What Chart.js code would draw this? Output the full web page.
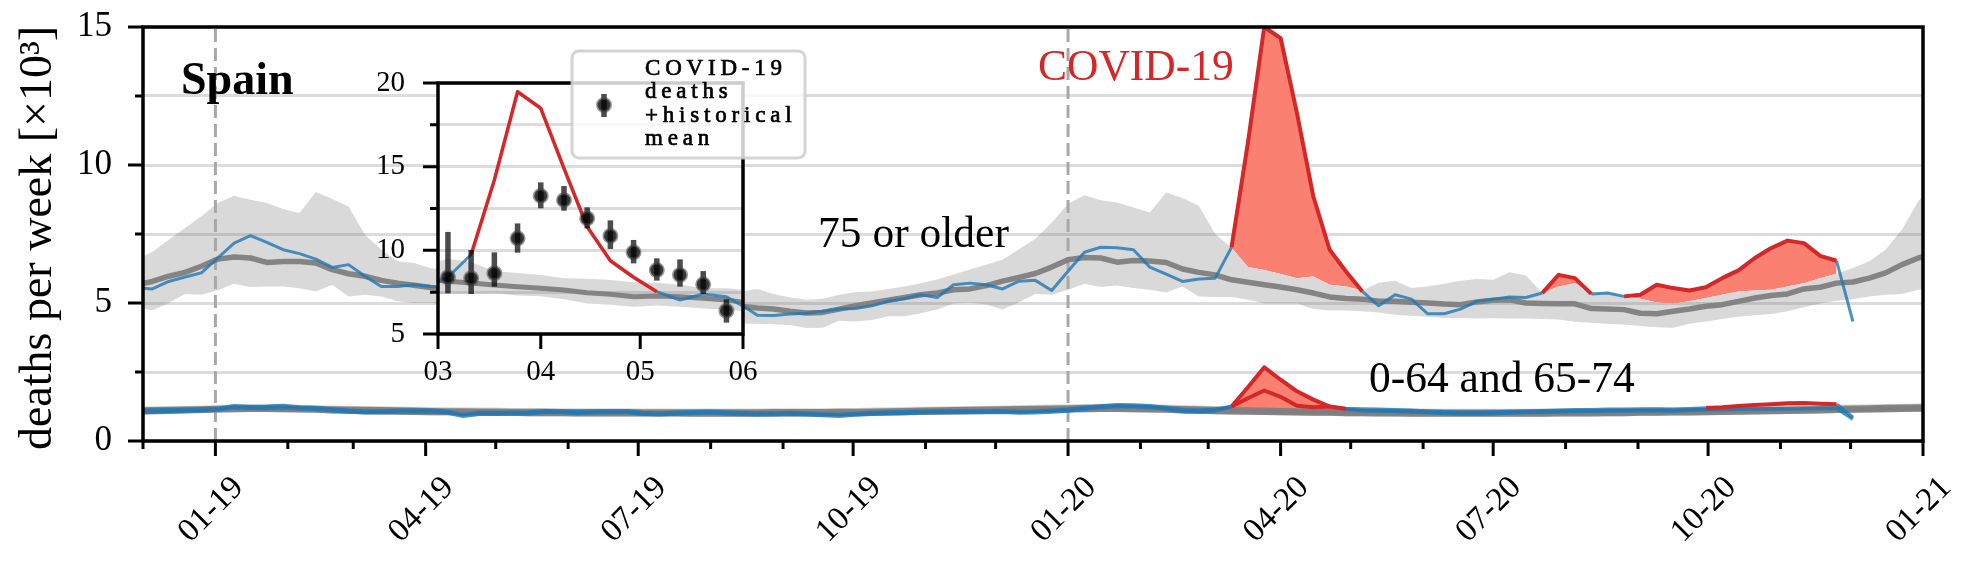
<!DOCTYPE html>
<html>
<head>
<meta charset="utf-8">
<script src="https://cdn.jsdelivr.net/npm/chart.js@4.4.1/dist/chart.umd.min.js"></script>
<style>
  html, body { margin: 0; padding: 0; background: #fff; }
  #wrap { position: relative; width: 1974px; height: 568px; }
  #wrap canvas { position: absolute; left: 0; top: 0; }
</style>
</head>
<body>
<div id="wrap">
  <canvas id="main" width="1974" height="568"></canvas>
  <canvas id="inset" width="1974" height="568"></canvas>
</div>
<script>
// weekly values (x10^3 deaths), one per week starting Wed 2018-11-28
const firstWeek = '2018-11-28';

// 75 or older
const mean75 = [5.65, 5.78, 5.97, 6.11, 6.33, 6.59, 6.67, 6.63, 6.47, 6.5, 6.5,
  6.45, 6.21, 6.06, 5.97, 5.82, 5.72, 5.64, 5.56, 5.5, 5.45,
  5.4, 5.35, 5.3, 5.27, 5.23, 5.2, 5.16, 5.12, 5.1, 5.06,
  5.03, 5.0, 4.98, 4.95, 4.92, 4.9, 4.88, 4.82, 4.78, 4.7,
  4.64, 4.66, 4.78, 4.9, 5.0, 5.1, 5.2, 5.3, 5.36, 5.48,
  5.51, 5.63, 5.79, 5.93, 6.07, 6.3, 6.57, 6.65, 6.63, 6.48,
  6.54, 6.52, 6.47, 6.23, 6.11, 6.02, 5.84, 5.75, 5.66, 5.58,
  5.48, 5.36, 5.22, 5.16, 5.14, 5.06, 5.06, 5.03, 5.0, 4.96,
  4.94, 5.04, 5.1, 5.12, 5.0, 4.98, 4.97, 4.97, 4.8, 4.78,
  4.76, 4.63, 4.61, 4.7, 4.78, 4.88, 4.94, 5.06, 5.18, 5.27,
  5.33, 5.51, 5.57, 5.72, 5.76, 5.9, 6.09, 6.39, 6.63, 6.8];
const high75 = [6.6, 6.85, 7.29, 7.72, 8.14, 8.62, 8.89, 8.74, 8.62, 8.41, 8.26,
  9.02, 8.77, 8.5, 7.47, 6.93, 6.51, 6.45, 6.27, 6.2, 6.15,
  6.1, 6.05, 6.0, 5.95, 5.9, 5.85, 5.8, 5.78, 5.75, 5.7,
  5.65, 5.6, 5.58, 5.55, 5.5, 5.45, 5.42, 5.51, 5.33, 5.2,
  5.12, 5.15, 5.3, 5.39, 5.42, 5.51, 5.6, 5.72, 5.85, 6.03,
  6.21, 6.39, 6.57, 6.95, 7.33, 7.91, 8.6, 8.9, 8.72, 8.64,
  8.46, 8.28, 9.0, 8.8, 8.52, 7.5, 7.0, 6.3, 6.2, 6.05,
  5.9, 5.96, 5.66, 5.6, 5.45, 5.73, 5.81, 5.54, 5.6, 5.7,
  5.81, 5.87, 5.84, 6.11, 6.0, 5.36, 5.6, 5.72, 5.33, 5.4,
  5.24, 5.15, 5.02, 4.97, 5.06, 5.18, 5.3, 5.42, 5.45, 5.48,
  5.6, 5.72, 5.9, 6.06, 6.27, 6.51, 6.93, 7.66, 8.7, 9.3];
const low75 = [4.85, 4.73, 5.0, 5.33, 5.3, 5.46, 5.7, 5.58, 5.6, 5.6, 5.53,
  5.42, 5.66, 5.24, 5.3, 5.24, 5.06, 5.0, 5.0, 4.95, 4.9,
  4.85, 4.8, 4.75, 4.7, 4.65, 4.6, 4.55, 4.5, 4.48, 4.45,
  4.42, 4.4, 4.37, 4.33, 4.3, 4.28, 4.25, 4.25, 4.23, 4.2,
  4.09, 4.1, 4.36, 4.33, 4.38, 4.52, 4.52, 4.63, 4.76, 4.98,
  5.02, 4.95, 4.76, 5.03, 5.33, 5.3, 5.48, 5.7, 5.58, 5.63,
  5.54, 5.48, 5.38, 5.6, 5.24, 5.22, 5.22, 5.12, 4.98, 4.98,
  4.98, 4.78, 4.73, 4.73, 4.7, 4.66, 4.57, 4.54, 4.5, 4.46,
  4.46, 4.44, 4.45, 4.44, 4.44, 4.42, 4.4, 4.32, 4.28, 4.25,
  4.22, 4.17, 4.12, 4.1, 4.25, 4.33, 4.42, 4.5, 4.56, 4.6,
  4.7, 4.85, 4.98, 5.08, 5.14, 5.24, 5.3, 5.33, 5.48, 5.55];
const obs75 = [5.55, 5.51, 5.78, 5.94, 6.09, 6.63, 7.17, 7.44, 7.2, 6.93, 6.79,
  6.59, 6.29, 6.39, 5.97, 5.6, 5.6, 5.66, 5.6, 5.55, 5.4,
  5.45, 5.3, 5.35, 5.2, 5.25, 5.15, 5.2, 5.05, 5.1, 5.0,
  5.05, 4.95, 4.9, 4.95, 4.85, 4.9, 4.95, 4.56, 4.55, 4.6,
  4.63, 4.7, 4.78, 4.8, 4.9, 5.06, 5.16, 5.3, 5.2, 5.66,
  5.72, 5.66, 5.51, 5.79, 5.82, 5.45, 6.15, 6.84, 7.02, 7.0,
  6.93, 6.3, 6.05, 5.78, 5.87, 5.9, 7.02, 10.8, 15.0, 14.6,
  11.88, 8.86, 6.93, 6.14, 5.42, 4.9, 5.3, 5.14, 4.61, 4.61,
  4.78, 5.06, 5.14, 5.22, 5.2, 5.36, 6.02, 5.9, 5.33, 5.36,
  5.24, 5.3, 5.66, 5.54, 5.45, 5.57, 5.9, 6.18, 6.63, 6.99,
  7.26, 7.17, 6.71, 6.53, 4.33];
const covid75 = [['2020-03-11', '2020-05-06'], ['2020-07-22', '2020-08-12'], ['2020-08-26', '2020-11-25']];

// 0-64
const meanA = [1.06, 1.07, 1.08, 1.1, 1.11, 1.13, 1.14, 1.15, 1.15, 1.14, 1.13,
  1.12, 1.1, 1.09, 1.07, 1.06, 1.05, 1.04, 1.03, 1.03, 1.02,
  1.02, 1.01, 1.01, 1.0, 1.0, 1.0, 0.99, 0.99, 0.99, 0.99,
  0.99, 0.99, 0.99, 0.98, 0.98, 0.98, 0.98, 0.98, 0.99, 0.99,
  0.99, 0.99, 1.0, 1.0, 1.01, 1.02, 1.03, 1.04, 1.05, 1.06,
  1.07, 1.08, 1.09, 1.1, 1.11, 1.12, 1.13, 1.14, 1.15, 1.15,
  1.14, 1.13, 1.12, 1.1, 1.09, 1.07, 1.06, 1.05, 1.04, 1.03,
  1.02, 1.01, 1.01, 1.0, 1.0, 0.99, 0.99, 0.98, 0.98, 0.98,
  0.98, 0.98, 0.98, 0.98, 0.98, 0.98, 0.99, 0.99, 0.99, 1.0,
  1.0, 1.01, 1.01, 1.02, 1.02, 1.03, 1.04, 1.05, 1.06, 1.07,
  1.08, 1.09, 1.1, 1.11, 1.12, 1.13, 1.14, 1.15, 1.16, 1.17];
const highA = [1.18, 1.2, 1.21, 1.23, 1.24, 1.26, 1.27, 1.28, 1.27, 1.26, 1.25,
  1.24, 1.22, 1.21, 1.19, 1.18, 1.17, 1.16, 1.15, 1.15, 1.14,
  1.14, 1.13, 1.13, 1.12, 1.12, 1.12, 1.11, 1.11, 1.12, 1.11,
  1.11, 1.11, 1.1, 1.1, 1.1, 1.1, 1.1, 1.1, 1.11, 1.11,
  1.11, 1.11, 1.12, 1.12, 1.13, 1.14, 1.15, 1.16, 1.17, 1.18,
  1.19, 1.2, 1.21, 1.22, 1.23, 1.24, 1.26, 1.27, 1.28, 1.28,
  1.27, 1.26, 1.25, 1.23, 1.22, 1.2, 1.19, 1.18, 1.17, 1.16,
  1.15, 1.14, 1.13, 1.12, 1.12, 1.11, 1.11, 1.1, 1.1, 1.1,
  1.1, 1.1, 1.1, 1.1, 1.1, 1.1, 1.11, 1.11, 1.11, 1.12,
  1.12, 1.13, 1.13, 1.14, 1.14, 1.15, 1.16, 1.17, 1.18, 1.19,
  1.2, 1.21, 1.22, 1.23, 1.24, 1.25, 1.26, 1.27, 1.28, 1.29];
const lowA = [0.96, 0.97, 0.98, 1.0, 1.01, 1.02, 1.04, 1.05, 1.05, 1.04, 1.03,
  1.02, 1.0, 0.99, 0.97, 0.96, 0.95, 0.94, 0.93, 0.93, 0.92,
  0.92, 0.91, 0.91, 0.9, 0.9, 0.9, 0.89, 0.89, 0.89, 0.89,
  0.89, 0.89, 0.89, 0.88, 0.88, 0.88, 0.88, 0.88, 0.89, 0.89,
  0.89, 0.89, 0.9, 0.9, 0.91, 0.92, 0.93, 0.94, 0.95, 0.96,
  0.97, 0.98, 0.99, 1.0, 1.01, 1.02, 1.03, 1.04, 1.05, 1.05,
  1.04, 1.03, 1.02, 1.0, 0.99, 0.97, 0.96, 0.95, 0.94, 0.93,
  0.92, 0.91, 0.91, 0.9, 0.9, 0.89, 0.89, 0.88, 0.88, 0.88,
  0.88, 0.88, 0.88, 0.88, 0.88, 0.88, 0.89, 0.89, 0.89, 0.9,
  0.9, 0.91, 0.91, 0.92, 0.92, 0.93, 0.94, 0.95, 0.96, 0.97,
  0.98, 0.99, 1.0, 1.01, 1.02, 1.03, 1.04, 1.05, 1.06, 1.07];
const obsA = [1.05, 1.04, 1.07, 1.09, 1.1, 1.12, 1.21, 1.19, 1.18, 1.21, 1.17,
  1.15, 1.1, 1.05, 1.02, 1.03, 1.05, 1.06, 1.05, 1.02, 0.9,
  0.97, 0.97, 0.98, 0.99, 1.04, 1.03, 1.0, 1.02, 1.03, 1.03,
  0.97, 0.95, 0.98, 1.0, 1.02, 0.99, 0.97, 0.95, 0.95, 0.97,
  0.95, 0.92, 0.9, 0.94, 0.97, 0.99, 1.0, 1.02, 1.03, 1.03,
  1.03, 1.03, 1.04, 1.01, 1.02, 1.05, 1.09, 1.15, 1.21, 1.25,
  1.24, 1.22, 1.15, 1.07, 1.05, 1.09, 1.25, 1.55, 1.83, 1.6,
  1.28, 1.22, 1.25, 1.16, 1.1, 1.09, 1.07, 1.05, 1.02, 1.0,
  0.98, 0.98, 0.99, 1.01, 1.03, 1.04, 1.05, 1.07, 1.07, 1.09,
  1.09, 1.1, 1.1, 1.09, 1.11, 1.13, 1.14, 1.15, 1.16, 1.17,
  1.16, 1.17, 1.19, 1.18, 0.8];
const covidA = [['2020-03-11', '2020-04-29']];

// 65-74
const meanB = [1.12, 1.13, 1.14, 1.15, 1.16, 1.18, 1.19, 1.2, 1.2, 1.19, 1.18,
  1.17, 1.16, 1.15, 1.14, 1.13, 1.12, 1.11, 1.1, 1.09, 1.09,
  1.08, 1.08, 1.07, 1.07, 1.07, 1.06, 1.06, 1.06, 1.06, 1.06,
  1.05, 1.05, 1.05, 1.05, 1.05, 1.05, 1.05, 1.05, 1.06, 1.06,
  1.06, 1.06, 1.07, 1.07, 1.08, 1.09, 1.1, 1.11, 1.12, 1.13,
  1.14, 1.15, 1.16, 1.17, 1.18, 1.19, 1.2, 1.21, 1.22, 1.22,
  1.21, 1.2, 1.19, 1.17, 1.16, 1.14, 1.13, 1.12, 1.11, 1.1,
  1.09, 1.08, 1.07, 1.07, 1.06, 1.06, 1.05, 1.05, 1.05, 1.04,
  1.04, 1.04, 1.04, 1.04, 1.04, 1.05, 1.05, 1.05, 1.06, 1.06,
  1.07, 1.07, 1.08, 1.08, 1.09, 1.1, 1.11, 1.12, 1.13, 1.14,
  1.15, 1.16, 1.17, 1.18, 1.19, 1.2, 1.21, 1.22, 1.23, 1.24];
const highB = [1.25, 1.26, 1.27, 1.28, 1.29, 1.31, 1.32, 1.33, 1.33, 1.32, 1.31,
  1.3, 1.29, 1.28, 1.27, 1.26, 1.25, 1.24, 1.23, 1.22, 1.22,
  1.21, 1.21, 1.2, 1.2, 1.2, 1.19, 1.19, 1.19, 1.19, 1.19,
  1.18, 1.18, 1.18, 1.18, 1.18, 1.18, 1.18, 1.18, 1.19, 1.19,
  1.19, 1.19, 1.2, 1.2, 1.21, 1.22, 1.23, 1.24, 1.25, 1.26,
  1.27, 1.28, 1.29, 1.3, 1.31, 1.32, 1.33, 1.34, 1.35, 1.35,
  1.34, 1.33, 1.32, 1.3, 1.29, 1.27, 1.26, 1.25, 1.24, 1.23,
  1.22, 1.21, 1.2, 1.2, 1.19, 1.19, 1.18, 1.18, 1.18, 1.17,
  1.17, 1.17, 1.17, 1.17, 1.17, 1.18, 1.18, 1.18, 1.19, 1.19,
  1.2, 1.2, 1.21, 1.21, 1.22, 1.23, 1.24, 1.25, 1.26, 1.27,
  1.28, 1.29, 1.3, 1.31, 1.32, 1.33, 1.34, 1.35, 1.36, 1.37];
const lowB = [1.02, 1.03, 1.04, 1.05, 1.06, 1.08, 1.09, 1.1, 1.1, 1.09, 1.08,
  1.07, 1.06, 1.05, 1.04, 1.03, 1.02, 1.01, 1.0, 0.99, 0.99,
  0.98, 0.98, 0.97, 0.97, 0.97, 0.96, 0.96, 0.96, 0.96, 0.96,
  0.95, 0.95, 0.95, 0.95, 0.95, 0.95, 0.95, 0.95, 0.96, 0.96,
  0.96, 0.96, 0.97, 0.97, 0.98, 0.99, 1.0, 1.01, 1.02, 1.03,
  1.04, 1.05, 1.06, 1.07, 1.08, 1.09, 1.1, 1.11, 1.12, 1.12,
  1.11, 1.1, 1.09, 1.07, 1.06, 1.04, 1.03, 1.02, 1.01, 1.0,
  0.99, 0.98, 0.97, 0.97, 0.96, 0.96, 0.95, 0.95, 0.95, 0.94,
  0.94, 0.94, 0.94, 0.94, 0.94, 0.95, 0.95, 0.95, 0.96, 0.96,
  0.97, 0.97, 0.98, 0.98, 0.99, 1.0, 1.01, 1.02, 1.03, 1.04,
  1.05, 1.06, 1.07, 1.08, 1.09, 1.1, 1.11, 1.12, 1.13, 1.14];
const obsB = [1.11, 1.12, 1.13, 1.15, 1.16, 1.18, 1.28, 1.25, 1.26, 1.29, 1.23,
  1.21, 1.16, 1.11, 1.08, 1.09, 1.11, 1.12, 1.11, 1.08, 0.95,
  1.03, 1.03, 1.04, 1.05, 1.1, 1.09, 1.06, 1.08, 1.09, 1.09,
  1.03, 1.01, 1.04, 1.06, 1.08, 1.05, 1.03, 1.01, 1.01, 1.03,
  1.01, 0.98, 0.96, 1.0, 1.03, 1.05, 1.06, 1.08, 1.09, 1.09,
  1.09, 1.09, 1.1, 1.07, 1.08, 1.11, 1.15, 1.21, 1.27, 1.31,
  1.3, 1.28, 1.21, 1.13, 1.11, 1.15, 1.25, 1.95, 2.67, 2.22,
  1.8, 1.5, 1.25, 1.18, 1.16, 1.15, 1.13, 1.11, 1.08, 1.06,
  1.04, 1.04, 1.05, 1.07, 1.09, 1.1, 1.11, 1.13, 1.13, 1.15,
  1.15, 1.16, 1.16, 1.15, 1.17, 1.2, 1.22, 1.27, 1.3, 1.33,
  1.37, 1.38, 1.35, 1.33, 0.86];
const covidB = [['2020-03-11', '2020-04-22'], ['2020-09-30', '2020-11-25']];

// inset: all ages, weekly from Wed 2020-02-26
const insetFirst = '2020-02-26';
const insetObs = [7.7, 8.39, 9.75, 14.2, 19.48, 18.49, 14.9, 11.41, 9.38, 8.39, 7.53, 7.03, 7.39, 7.23, 6.45];
const insetMean = [8.3, 8.15, 8.05, 7.93, 7.83, 7.73, 7.63, 7.47, 7.37, 7.23, 7.27, 7.23, 7.13, 7.03, 6.85];
const insetHigh = [9.1, 9.5, 9.3, 8.75, 8.65, 8.53, 8.33, 8.3, 8.23, 8.1, 8.07, 7.95, 7.73, 7.73, 7.6];
const insetLow = [7.3, 7.4, 7.4, 7.43, 7.3, 7.25, 7.07, 6.83, 6.75, 6.63, 6.7, 6.63, 6.53, 6.45, 6.35];
const insetCovid = [['2020-03-11', '2020-05-06']];
// COVID-19 deaths + historical mean, weekly from 2020-03-04
const dotsFirst = '2020-03-04';
const dotVal = [8.39, 8.33, 8.63, 10.72, 13.25, 13.0, 11.91, 10.86, 9.88, 8.82, 8.53, 7.97, 6.39];
const dotLo = [7.43, 7.39, 7.83, 9.86, 12.51, 12.37, 11.31, 10.08, 9.22, 8.19, 7.83, 7.39, 5.68];
const dotHi = [11.1, 10.02, 9.88, 11.61, 14.06, 13.84, 12.57, 11.79, 10.62, 9.52, 9.46, 8.76, 7.07];

// ---- helpers ----
const BASE = Date.UTC(2018, 11, 1);
const day = s => (Date.parse(s + 'T00:00:00Z') - BASE) / 864e5;

const monthTicks = [];
for (let i = 0; i <= 25; i++) {
  const d = new Date(Date.UTC(2018, 11 + i, 1));
  const m = d.getUTCMonth() + 1;
  const lab = (m - 1) % 3 === 0 ? String(m).padStart(2, '0') + '-' + String(d.getUTCFullYear() % 100).padStart(2, '0') : '';
  monthTicks.push({ value: (d - BASE) / 864e5, label: lab });
}
const insetMonths = [['2020-03-01', '03'], ['2020-04-01', '04'], ['2020-05-01', '05'], ['2020-06-01', '06']]
  .map(([s, l]) => ({ value: day(s), label: l }));

const weekly = (arr, start) => arr.map((v, i) => ({ x: day(start) + 7 * i, y: v }));
const inRange = (x, ranges, strict) => ranges.some(([a, b]) =>
  strict ? (x > day(a) && x < day(b)) : (x >= day(a) && x <= day(b)));
const redPart = (pts, r) => pts.map(p => inRange(p.x, r, false) ? p : { x: p.x, y: null });
const bluePart = (pts, r) => pts.map(p => inRange(p.x, r, true) ? { x: p.x, y: null } : p);

const serif = "'Liberation Serif', 'Times New Roman', serif";
const RED = '#d62728', SALMON = '#fa8072', BLUE = 'rgba(31,119,180,0.8)';
const GREY = 'rgba(128,128,128,0.95)', BAND = 'rgba(128,128,128,0.3)', NONE = 'rgba(0,0,0,0)';

function line(data, color, width, extra) {
  return Object.assign({ data, borderColor: color, borderWidth: width, pointRadius: 0,
    fill: false, tension: 0, borderJoinStyle: 'round', clip: 0 }, extra || {});
}

const p75 = weekly(obs75, firstWeek), pA = weekly(obsA, firstWeek), pB = weekly(obsB, firstWeek);
const vline = s => [{ x: day(s), y: 0 }, { x: day(s), y: 15 }];

const mainSets = [
  line(redPart(p75, covid75), RED, 4, { fill: { target: 12, above: SALMON, below: NONE } }),  // 0
  line(redPart(pB, covidB), RED, 4, { fill: { target: 14, above: SALMON, below: NONE } }),    // 1
  line(redPart(pA, covidA), RED, 4, { fill: { target: 16, above: SALMON, below: NONE } }),    // 2
  line(bluePart(p75, covid75), BLUE, 3),                                                       // 3
  line(bluePart(pB, covidB), BLUE, 3.5),                                                       // 4
  line(bluePart(pA, covidA), BLUE, 3.5),                                                       // 5
  line(weekly(mean75, firstWeek), GREY, 5.5),                                                  // 6
  line(weekly(meanB, firstWeek), GREY, 5.5),                                                   // 7
  line(weekly(meanA, firstWeek), GREY, 5.5),                                                   // 8
  line(vline('2019-01-01'), '#a8a8a8', 3, { borderDash: [13, 6] }),                            // 9
  line(vline('2020-01-01'), '#a8a8a8', 3, { borderDash: [13, 6] }),                            // 10
  line(weekly(low75, firstWeek), NONE, 0),                                                     // 11
  line(weekly(high75, firstWeek), NONE, 0, { fill: '-1', backgroundColor: BAND }),             // 12
  line(weekly(lowB, firstWeek), NONE, 0),                                                      // 13
  line(weekly(highB, firstWeek), NONE, 0, { fill: '-1', backgroundColor: BAND }),              // 14
  line(weekly(lowA, firstWeek), NONE, 0),                                                      // 15
  line(weekly(highA, firstWeek), NONE, 0, { fill: '-1', backgroundColor: BAND })               // 16
];

function drawTicksAndFrame(ctx, a, y, x, xticks) {
  ctx.strokeStyle = '#000';
  ctx.lineWidth = 3;
  ctx.beginPath();
  y.ticks.forEach(t => {
    const py = y.getPixelForValue(t.value);
    const len = t.value % 5 === 0 ? 15 : 8;
    ctx.moveTo(a.left - len, py); ctx.lineTo(a.left, py);
  });
  xticks.forEach(t => {
    const px = x.getPixelForValue(t.value);
    const len = t.label ? 15 : 8;
    ctx.moveTo(px, a.bottom); ctx.lineTo(px, a.bottom + len);
  });
  ctx.stroke();
  ctx.lineWidth = 3.5;
  ctx.strokeRect(a.left, a.top, a.right - a.left, a.bottom - a.top);
}

// keep the plot box exactly where the axes box is: no extra room for tick labels
const fixY = w => s => { s.width = w; s.paddingTop = 0; s.paddingBottom = 0; };

const mainDecor = {
  id: 'mainDecor',
  afterDraw(chart) {
    const { ctx, chartArea: a, scales: { x, y } } = chart;
    ctx.save();
    drawTicksAndFrame(ctx, a, y, x, monthTicks);
    ctx.fillStyle = '#000';
    // rotated date labels, centred under their tick
    ctx.font = '33px ' + serif;
    ctx.textAlign = 'center';
    ctx.textBaseline = 'middle';
    monthTicks.forEach(t => {
      if (!t.label) return;
      ctx.save();
      ctx.translate(x.getPixelForValue(t.value) - 4, 510);
      ctx.rotate(-Math.PI / 4);
      ctx.fillText(t.label, 0, 0);
      ctx.restore();
    });
    ctx.textBaseline = 'alphabetic';
    ctx.textAlign = 'left';
    ctx.font = 'bold 46px ' + serif;
    ctx.fillText('Spain', 181, 94);
    ctx.font = '43.5px ' + serif;
    ctx.fillText('75 or older', 818, 247);
    ctx.fillText('0-64 and 65-74', 1369, 392);
    ctx.fillStyle = RED;
    ctx.fillText('COVID-19', 1038, 80);
    ctx.fillStyle = '#000';
    ctx.translate(51, 238);
    ctx.rotate(-Math.PI / 2);
    ctx.textAlign = 'center';
    ctx.font = '46px ' + serif;
    ctx.fillText('deaths per week [×10³]', 0, 0);
    ctx.restore();
  }
};

new Chart(document.getElementById('main'), {
  type: 'line',
  data: { datasets: mainSets },
  options: {
    responsive: false, animation: false, devicePixelRatio: 1,
    layout: { padding: { left: 0, top: 27, right: 51, bottom: 0 } },
    plugins: { legend: { display: false }, tooltip: { enabled: false }, filler: { drawTime: 'beforeDatasetsDraw' } },
    scales: {
      x: {
        type: 'linear', min: 0, max: day('2021-01-01'),
        afterBuildTicks: s => { s.ticks = monthTicks.map(t => ({ value: t.value })); },
        afterFit: s => { s.height = 127; s.paddingLeft = 0; s.paddingRight = 0; },
        grid: { display: false, drawTicks: false },
        border: { display: false },
        ticks: { display: false }
      },
      y: {
        min: 0, max: 15,
        afterFit: fixY(143),
        grid: { color: '#dcdcdc', lineWidth: 3, drawTicks: false },
        border: { display: false },
        ticks: {
          stepSize: 2.5, autoSkip: false, padding: 31, color: '#000',
          font: { family: serif, size: 35 },
          callback: v => v % 5 === 0 ? String(v) : ''
        }
      }
    }
  },
  plugins: [mainDecor]
});

// ---- inset ----
const pIn = weekly(insetObs, insetFirst);
const dotPts = weekly(dotVal, dotsFirst);
const insetSets = [
  line(dotPts, NONE, 0, { showLine: false, pointRadius: 6.5, pointBackgroundColor: 'rgba(0,0,0,0.8)',
    pointBorderColor: 'rgba(70,70,70,0.55)', pointBorderWidth: 3 }),                        // 0
  line(redPart(pIn, insetCovid), RED, 3.5),                                                   // 1
  line(bluePart(pIn, insetCovid), BLUE, 3),                                                   // 2
  line(weekly(insetMean, insetFirst), GREY, 5),                                               // 3
  line(weekly(insetLow, insetFirst), NONE, 0),                                                // 4
  line(weekly(insetHigh, insetFirst), NONE, 0, { fill: '-1', backgroundColor: BAND })         // 5
];

function errBar(ctx, px, y0, y1, w) {
  ctx.beginPath(); ctx.moveTo(px, y0); ctx.lineTo(px, y1); ctx.lineWidth = w; ctx.stroke();
}

const insetDecor = {
  id: 'insetDecor',
  beforeDraw(chart) {
    const { ctx, chartArea: a } = chart;
    ctx.save();
    ctx.fillStyle = '#fff';
    ctx.fillRect(a.left, a.top, a.right - a.left, a.bottom - a.top);
    ctx.restore();
  },
  beforeDatasetDraw(chart, args) {
    if (args.index !== 0) return;
    const { ctx, chartArea: a, scales: { x, y } } = chart;
    ctx.save();
    ctx.beginPath(); ctx.rect(a.left, a.top, a.right - a.left, a.bottom - a.top); ctx.clip();
    ctx.strokeStyle = 'rgba(0,0,0,0.7)';
    dotPts.forEach((p, i) => {
      errBar(ctx, x.getPixelForValue(p.x), y.getPixelForValue(dotLo[i]), y.getPixelForValue(dotHi[i]), 5.5);
    });
    ctx.restore();
  },
  afterDraw(chart) {
    const { ctx, chartArea: a, scales: { x, y } } = chart;
    ctx.save();
    drawTicksAndFrame(ctx, a, y, x, insetMonths);
    // legend
    ctx.beginPath();
    ctx.roundRect(572, 51, 233, 107, 7);
    ctx.fillStyle = 'rgba(255,255,255,0.8)';
    ctx.fill();
    ctx.strokeStyle = 'rgba(204,204,204,0.85)';
    ctx.lineWidth = 3;
    ctx.stroke();
    ctx.strokeStyle = 'rgba(0,0,0,0.7)';
    errBar(ctx, 604, 94, 117, 5.5);
    ctx.beginPath(); ctx.arc(604, 105, 6.5, 0, Math.PI * 2);
    ctx.fillStyle = 'rgba(0,0,0,0.8)'; ctx.fill();
    ctx.strokeStyle = 'rgba(70,70,70,0.55)'; ctx.lineWidth = 3; ctx.stroke();
    ctx.fillStyle = '#000';
    ctx.strokeStyle = '#000';
    ctx.lineWidth = 0.7;
    ctx.font = '23px ' + serif;
    ctx.textAlign = 'left';
    ctx.textBaseline = 'alphabetic';
    if ('letterSpacing' in ctx) ctx.letterSpacing = '4.8px';
    ['COVID-19', 'deaths', '+historical', 'mean'].forEach((t, i) => {
      ctx.fillText(t, 645, 75 + i * 23.3);
      ctx.strokeText(t, 645, 75 + i * 23.3);
    });
    ctx.restore();
  }
};

new Chart(document.getElementById('inset'), {
  type: 'line',
  data: { datasets: insetSets },
  options: {
    responsive: false, animation: false, devicePixelRatio: 1,
    layout: { padding: { left: 378, top: 83, right: 1231, bottom: 174 } },
    plugins: { legend: { display: false }, tooltip: { enabled: false } },
    scales: {
      x: {
        type: 'linear', min: day('2020-03-01'), max: day('2020-06-01'),
        afterBuildTicks: s => { s.ticks = insetMonths.map(t => ({ value: t.value })); },
        afterFit: s => { s.height = 60; s.paddingLeft = 0; s.paddingRight = 0; },
        grid: { display: false, drawTicks: false },
        border: { display: false },
        ticks: {
          autoSkip: false, maxRotation: 0, padding: 21, color: '#000',
          font: { family: serif, size: 29 },
          callback: v => (insetMonths.find(t => t.value === v) || {}).label || ''
        }
      },
      y: {
        min: 5, max: 20,
        afterFit: fixY(60),
        grid: { color: '#dcdcdc', lineWidth: 3, drawTicks: false },
        border: { display: false },
        ticks: {
          stepSize: 2.5, autoSkip: false, padding: 33, color: '#000',
          font: { family: serif, size: 29 },
          callback: v => v % 5 === 0 ? String(v) : ''
        }
      }
    }
  },
  plugins: [insetDecor]
});
</script>
</body>
</html>
